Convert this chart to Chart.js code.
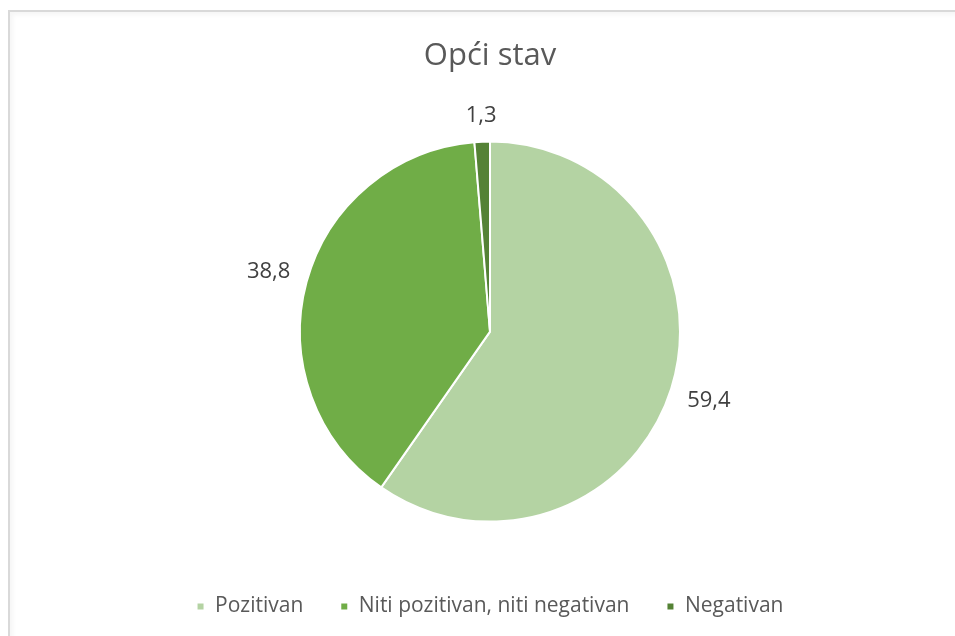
<!DOCTYPE html>
<html>
<head>
<meta charset="utf-8">
<script src="https://cdn.jsdelivr.net/npm/chart.js@4"></script>
<style>
    html, body { margin: 0; padding: 0; background: #fff; overflow: hidden; }
    body { width: 955px; height: 636px; position: relative; }
    .frame {
        position: absolute; left: 8px; top: 10px; width: 960px; height: 640px;
        border-top: 2px solid #d9d9d9; border-left: 2px solid #d9d9d9;
        box-shadow: inset 3px 3px 4px rgba(0,0,0,0.04);
    }
    .wrap { position: absolute; left: 10px; top: 11px; width: 945px; height: 625px; }
</style>
</head>
<body>
<div class="frame"></div>
<div class="wrap"><canvas id="chart"></canvas></div>
<script>
const categories = ['Pozitivan', 'Niti pozitivan, niti negativan', 'Negativan'];
const values = [59.4, 38.8, 1.3];
const sliceColors = ['#b4d3a3', '#70ad47', '#548235'];

// value labels outside the slices, comma as decimal sign
const valueLabels = {
    id: 'valueLabels',
    afterDatasetsDraw(chart) {
        const ctx = chart.ctx;
        const meta = chart.getDatasetMeta(0);
        ctx.save();
        ctx.font = '22px "Open Sans"';
        ctx.fillStyle = '#404040';
        ctx.textAlign = 'center';
        ctx.textBaseline = 'middle';
        meta.data.forEach((arc, i) => {
            const p = arc.getProps(['x', 'y', 'startAngle', 'endAngle', 'outerRadius'], true);
            const mid = (p.startAngle + p.endAngle) / 2;
            const text = String(values[i]).replace('.', ',');
            const w = ctx.measureText(text).width;
            const cos = Math.cos(mid), sin = Math.sin(mid);
            const d = p.outerRadius + 16 + Math.abs(cos) * w / 2 + Math.abs(sin) * 9;
            ctx.fillText(text, p.x + cos * d, p.y + sin * d);
        });
        ctx.restore();
    }
};

new Chart(document.getElementById('chart'), {
    type: 'pie',
    data: {
        labels: categories,
        datasets: [{
            data: values,
            backgroundColor: sliceColors,
            borderColor: '#ffffff',
            borderWidth: 2,
            radius: 190
        }]
    },
    plugins: [valueLabels],
    options: {
        responsive: true,
        maintainAspectRatio: false,
        animation: false,
        layout: { padding: { left: 15, right: 0, top: 0, bottom: 9 } },
        plugins: {
            tooltip: { enabled: false },
            title: {
                display: true,
                text: 'Opći stav',
                color: '#595959',
                font: { family: 'Open Sans', size: 31, weight: 'normal' },
                padding: { top: 27, bottom: 29 }
            },
            legend: {
                position: 'bottom',
                labels: {
                    color: '#595959',
                    font: { family: 'Open Sans', size: 21 },
                    boxWidth: 8,
                    boxHeight: 8,
                    padding: 37
                }
            }
        }
    }
});
</script>
</body>
</html>
